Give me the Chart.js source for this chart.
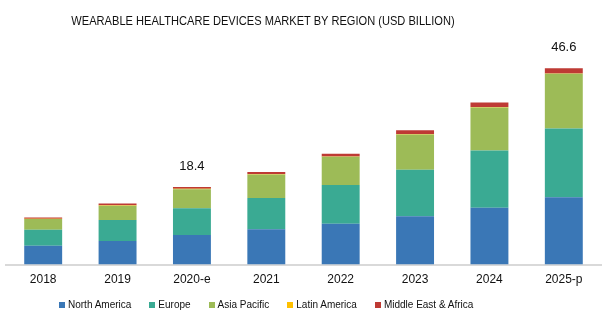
<!DOCTYPE html>
<html>
<head>
<meta charset="utf-8">
<script src="https://cdn.jsdelivr.net/npm/chart.js@4"></script>
<style>
  html, body { margin: 0; padding: 0; background: #fff; }
  #wrap { position: relative; width: 602px; height: 325px; }
  #title {
    position: absolute; left: 0; top: 13px; width: 526px; text-align: center;
    font: 13px "Liberation Sans", Arial, sans-serif; color: #111;
    transform: scaleX(0.853); transform-origin: 263px 0;
  }
  #legend {
    position: absolute; left: 59px; top: 299px; white-space: nowrap;
    font: 10px "Liberation Sans", Arial, sans-serif; color: #111;
  }
  #legend span.item { display: inline-block; margin-right: 18px; }
  #legend span.box { display: inline-block; width: 6px; height: 6px; margin-right: 3px; }
</style>
</head>
<body>
<div id="wrap">
  <canvas id="chart" width="602" height="325"></canvas>
  <div id="title">WEARABLE HEALTHCARE DEVICES MARKET BY REGION (USD BILLION)</div>
  <div id="legend"></div>
</div>
<script>
// Categories and series (USD billion)
const years = ['2018', '2019', '2020-e', '2021', '2022', '2023', '2024', '2025-p'];
const northAmerica = [4.5, 5.6, 7.0, 8.4, 9.7, 11.5, 13.5, 16.0];
const europe = [3.8, 5.0, 6.4, 7.4, 9.2, 11.0, 13.6, 16.3];
const asiaPacific = [2.5, 3.4, 4.5, 5.6, 6.7, 8.4, 10.2, 13.0];
const latinAmerica = [0.1, 0.1, 0.1, 0.1, 0.1, 0.1, 0.1, 0.1];
const middleEastAfrica = [0.3, 0.4, 0.4, 0.5, 0.6, 0.9, 1.1, 1.2];
// Totals printed above some bars
const totalLabels = ['', '', '18.4', '', '', '', '', '46.6'];

const series = [
    { label: 'North America', data: northAmerica, color: '#3A77B6' },
    { label: 'Europe', data: europe, color: '#3AAA93' },
    { label: 'Asia Pacific', data: asiaPacific, color: '#9DBB57' },
    { label: 'Latin America', data: latinAmerica, color: '#FFC000' },
    { label: 'Middle East & Africa', data: middleEastAfrica, color: '#BE3A34' }
];

// Legend (plain html, it sits off-centre in the original)
const legendEl = document.getElementById('legend');
series.forEach(s => {
    const item = document.createElement('span');
    item.className = 'item';
    const box = document.createElement('span');
    box.className = 'box';
    box.style.background = s.color;
    item.appendChild(box);
    item.appendChild(document.createTextNode(s.label));
    legendEl.appendChild(item);
});

// Draw the total labels on top of the stacks
const totalsPlugin = {
    id: 'totals',
    afterDatasetsDraw(chart) {
        const ctx = chart.ctx;
        const lastMeta = chart.getDatasetMeta(chart.data.datasets.length - 1);
        ctx.save();
        ctx.font = '13px "Liberation Sans", Arial, sans-serif';
        ctx.fillStyle = '#111';
        ctx.textAlign = 'center';
        ctx.textBaseline = 'bottom';
        totalLabels.forEach((txt, i) => {
            if (!txt) return;
            const bar = lastMeta.data[i];
            ctx.fillText(txt, bar.x, bar.y - 14);
        });
        ctx.restore();
    }
};

const ctx = document.getElementById('chart').getContext('2d');
new Chart(ctx, {
    type: 'bar',
    data: {
        labels: years,
        datasets: series.map(s => ({
            label: s.label,
            data: s.data,
            backgroundColor: s.color,
            borderWidth: 0,
            barPercentage: 0.51,
            categoryPercentage: 1
        }))
    },
    options: {
        responsive: false,
        animation: false,
        layout: { padding: { top: 33, left: 6, right: 1, bottom: 30 } },
        scales: {
            x: {
                stacked: true,
                grid: { display: false, drawTicks: false },
                border: { display: true, color: '#d9d9d9', width: 2 },
                ticks: {
                    padding: 8,
                    color: '#111',
                    font: { family: '"Liberation Sans", Arial, sans-serif', size: 12 }
                }
            },
            y: {
                stacked: true,
                display: false,
                min: 0,
                max: 55
            }
        },
        plugins: {
            legend: { display: false },
            title: { display: false },
            tooltip: { enabled: false }
        }
    },
    plugins: [totalsPlugin]
});
</script>
</body>
</html>
